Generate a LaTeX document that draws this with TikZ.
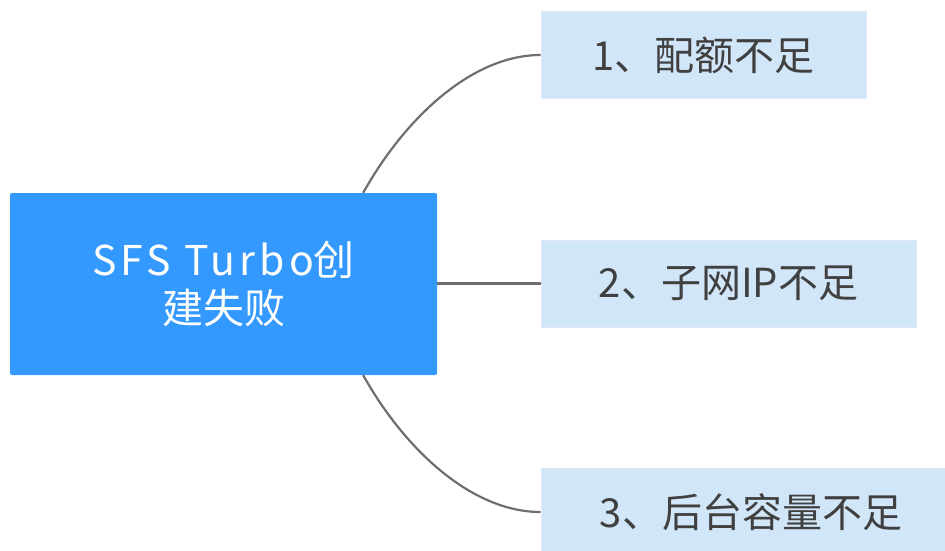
\documentclass[tikz,border=0pt]{standalone}
\usepackage{fontspec}
\setmainfont{Noto Sans CJK SC}
\newfontfamily\cjk{Noto Sans CJK SC}
\newfontfamily\cjkwide[LetterSpace=10]{Noto Sans CJK SC}
\definecolor{mainblue}{HTML}{3399FF}
\definecolor{leafblue}{HTML}{D1E6F9}
\definecolor{leafedge}{HTML}{E3E9F2}
\definecolor{txtgray}{HTML}{404040}
\definecolor{linegray}{HTML}{6E6E6E}
\begin{document}
\begin{tikzpicture}[x=1pt,y=-1pt,
  rootbox/.style={rectangle, rounded corners=2pt, fill=mainblue, text=white,
    minimum width=427pt, minimum height=182pt, inner sep=0pt, align=center,
    font=\cjk\fontsize{41}{48}\selectfont},
  leafbox/.style={rectangle, fill=leafblue, draw=leafedge, line width=0.8pt, text=txtgray,
    minimum height=87pt, inner sep=0pt,
    font=\cjk\fontsize{40}{48}\selectfont},
  conn/.style={draw=linegray, line width=2.2pt}]
\useasboundingbox (0,0) rectangle (945,551);
\node[rootbox] (main) at (223.5,284) {{\cjkwide SFS Turbo}创\\建失败};
\node[leafbox, minimum width=325pt] (b1) at (703.5,55) {1、配额不足};
\node[leafbox, minimum width=375pt] (b2) at (728.5,283.5) {2、子网IP不足};
\node[leafbox, minimum width=420pt] (b3) at (751,512) {3、后台容量不足};
\coordinate (t1) at ([xshift=-74pt]main.north east);
\coordinate (t3) at ([xshift=-74pt]main.south east);
\draw[conn] (t1) .. controls (405,118) and (472,55) .. (b1.west);
\draw[conn] (main.east |- b2.west) -- (b2.west);
\draw[conn] (t3) .. controls (405,450) and (472,512) .. (b3.west);
\end{tikzpicture}
\end{document}
